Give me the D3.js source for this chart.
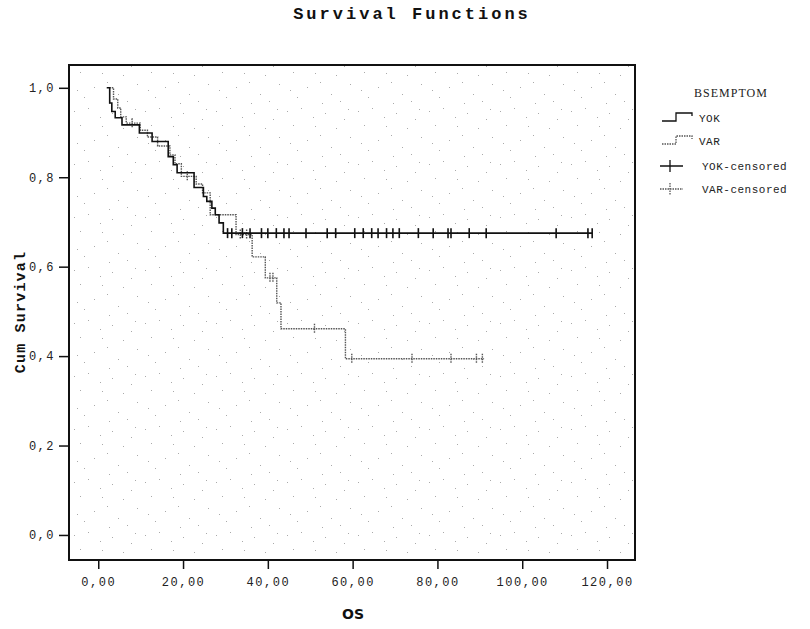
<!DOCTYPE html>
<html>
<head>
<meta charset="utf-8">
<script src="https://cdn.jsdelivr.net/npm/d3@7"></script>
<style>
  body { margin: 0; background: #fff; }
  text { font-family: "Liberation Mono", "DejaVu Sans Mono", monospace; fill: #222; }
</style>
</head>
<body>
<div id="chart"></div>
<script>
// Kaplan-Meier curves: [time, survival after the drop]
var yokStart = 2.0;
var yokSteps = [[2.7,0.966],[3.2,0.947],[4.0,0.933],[5.6,0.917],[9.7,0.899],[12.7,0.880],
                [16.5,0.846],[17.7,0.828],[18.6,0.810],[22.6,0.777],[24.8,0.757],[25.6,0.746],
                [26.8,0.731],[27.6,0.716],[28.5,0.698],[29.5,0.675]];
var yokEnd = 116.5;
var yokCensored = [30.5,31.5,34,35.8,38.5,40,42,43.8,45,49,54,56,60.5,62.5,64.5,66,68,69.5,
                   71,75.5,79,82.5,83.2,87.5,91.5,108,115.5,116.5];

var varStart = 2.6;
var varSteps = [[3.6,0.975],[4.6,0.955],[5.3,0.935],[6.6,0.921],[9.9,0.905],[11.6,0.890],
                [14.0,0.870],[16.9,0.850],[18.1,0.830],[19.6,0.802],[23.1,0.785],[24.6,0.765],
                [26.4,0.716],[32.5,0.672],[36.3,0.622],[39.4,0.575],[42.1,0.519],[43.1,0.461],
                [58.3,0.394]];
var varEnd = 91.0;
var varCensored = [8.0,21.0,33.5,35.0,40.5,41.2,51.0,59.8,74.0,83.2,89.2,90.6];

var xTicks = [0,20,40,60,80,100,120];
var yTicks = [0,0.2,0.4,0.6,0.8,1.0];
var groups = ["YOK","VAR"];

var width = 810, height = 629;
var margin = {left: 69, top: 65, right: 175, bottom: 69};

var svg = d3.select("#chart").append("svg")
    .attr("width", width).attr("height", height);

var x = d3.scaleLinear().domain([-6.9, 126.6]).range([margin.left, width - margin.right]);
var y = d3.scaleLinear().domain([-0.056, 1.051]).range([height - margin.bottom, margin.top]);

//Scanner stipple inside the frame (fixed dot positions in one tile)
var defs = svg.append("defs");
var pat = defs.append("pattern").attr("id","stipple")
    .attr("patternUnits","userSpaceOnUse").attr("width",71).attr("height",53);
[[3,5],[17,2],[29,11],[41,7],[9,19],[23,34],[36,29],[13,44],[31,20],[52,22],[6,37],
 [60,13],[47,41],[66,31],[56,48],[38,50],[64,3]]
  .forEach(function(p){
     pat.append("rect").attr("x",p[0]).attr("y",p[1]).attr("width",1).attr("height",1).attr("fill","#aaa");
  });
svg.append("rect").attr("x", x.range()[0]).attr("y", y.range()[1])
   .attr("width", x.range()[1]-x.range()[0]).attr("height", y.range()[0]-y.range()[1])
   .attr("fill","url(#stipple)");

//Title and axis titles
svg.append("text").text("Survival Functions")
   .attr("x", 412).attr("y", 19).attr("text-anchor","middle")
   .style("font-size","17px").style("font-weight","bold").style("letter-spacing","3px")
   .style("fill","#111");
svg.append("text").text("Cum Survival")
   .attr("transform","translate(25,312) rotate(-90)").attr("text-anchor","middle")
   .style("font-size","15px").style("font-weight","bold").style("letter-spacing","1.2px")
   .style("fill","#111");
svg.append("text").text("OS")
   .attr("x", 353).attr("y", 619).attr("text-anchor","middle")
   .style("font-family","'DejaVu Sans', sans-serif").style("font-size","14px").style("font-weight","bold")
   .style("fill","#111");

//Axes with outside ticks
var xAxis = svg.append("g").attr("transform","translate(0," + y.range()[0] + ")")
   .call(d3.axisBottom(x).tickValues(xTicks).tickSize(9).tickPadding(8)
         .tickFormat(function(d){ return d3.format(".2f")(d).replace(".", ","); }));
var yAxis = svg.append("g").attr("transform","translate(" + x.range()[0] + ",0)")
   .call(d3.axisLeft(y).tickValues(yTicks).tickSize(10).tickPadding(4)
         .tickFormat(function(d){ return d3.format(".1f")(d).replace(".", ","); }));
[xAxis, yAxis].forEach(function(a){
   a.select(".domain").remove();
   a.selectAll("line").attr("stroke","#111").attr("stroke-width",1.5);
   a.selectAll("text").style("font-family","'Liberation Mono', monospace")
    .style("font-size","12px").style("letter-spacing","1.5px").style("fill","#222");
});

//Frame
svg.append("rect").attr("x", x.range()[0]).attr("y", y.range()[1])
   .attr("width", x.range()[1]-x.range()[0]).attr("height", y.range()[0]-y.range()[1])
   .attr("fill","none").attr("stroke","#111").attr("stroke-width",2);

//Survival curves
var line = d3.line().x(function(d){ return x(d[0]); }).y(function(d){ return y(d[1]); })
   .curve(d3.curveStepAfter);
function survivalAt(steps, t) {
   var s = 1.0;
   steps.forEach(function(d){ if (d[0] <= t) s = d[1]; });
   return s;
}
function curvePoints(start, steps, end) {
   var pts = [[start, 1.0]].concat(steps);
   pts.push([end, steps[steps.length-1][1]]);
   return pts;
}
var series = [
  {name:"YOK", pts: curvePoints(yokStart, yokSteps, yokEnd), steps: yokSteps, cens: yokCensored,
   color:"#111", width:1.6, dash:null},
  {name:"VAR", pts: curvePoints(varStart, varSteps, varEnd), steps: varSteps, cens: varCensored,
   color:"#555", width:1.4, dash:"1.5,1"}
];
series.slice().reverse().forEach(function(s){
   svg.append("path").datum(s.pts).attr("d", line)
      .attr("fill","none").attr("stroke", s.color).attr("stroke-width", s.width)
      .attr("stroke-dasharray", s.dash);
   svg.selectAll(null).data(s.cens).enter().append("line")
      .attr("x1", function(d){ return x(d); }).attr("x2", function(d){ return x(d); })
      .attr("y1", function(d){ return y(survivalAt(s.steps, d)) - 5; })
      .attr("y2", function(d){ return y(survivalAt(s.steps, d)) + 5; })
      .attr("stroke", s.color).attr("stroke-width", s.width)
      .attr("stroke-dasharray", s.dash);
});

//Legend
var lg = svg.append("g");
lg.append("text").text("BSEMPTOM").attr("x", 731).attr("y", 97).attr("text-anchor","middle")
  .style("font-family","'Liberation Serif', serif").style("font-size","12px").style("letter-spacing","1px");
var rows = [120, 143];
series.forEach(function(s, i){
   var yy = rows[i];
   lg.append("path").attr("d", "M662," + (yy+1) + "H676V" + (yy-7) + "H692V" + (yy-4))
     .attr("fill","none").attr("stroke", s.color).attr("stroke-width", 1.3)
     .attr("stroke-dasharray", s.dash);
   lg.append("text").text(s.name).attr("x", 699).attr("y", yy + 2)
     .style("font-size","11px").style("letter-spacing","0.5px");
});
[166, 189].forEach(function(yy, i){
   var s = series[i];
   lg.append("path").attr("d", "M660," + yy + "H683M670," + (yy-6) + "V" + (yy+6))
     .attr("fill","none").attr("stroke", s.color).attr("stroke-width", 1.3)
     .attr("stroke-dasharray", s.dash);
   lg.append("text").text(s.name + "-censored").attr("x", 702).attr("y", yy + 4)
     .style("font-size","11px").style("letter-spacing","0.5px");
});
</script>
</body>
</html>
